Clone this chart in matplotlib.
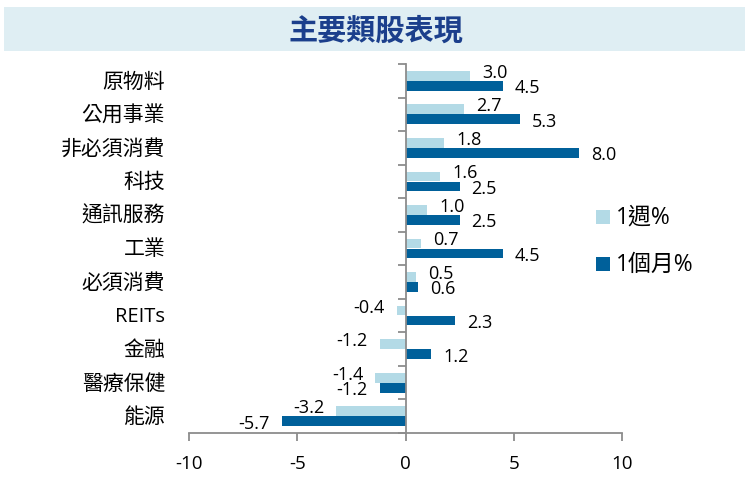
import matplotlib
matplotlib.use("Agg")
import matplotlib.pyplot as plt
from matplotlib.patches import Rectangle
import numpy as np

plt.rcParams['font.family'] = ['Open Sans', 'Noto Sans CJK TC', 'DejaVu Sans']

title = "主要類股表現"
categories = ["原物料", "公用事業", "非必須消費", "科技", "通訊服務", "工業",
              "必須消費", "REITs", "金融", "醫療保健", "能源"]
week = [3.0, 2.7, 1.8, 1.6, 1.0, 0.7, 0.5, -0.4, -1.2, -1.4, -3.2]
month = [4.5, 5.3, 8.0, 2.5, 2.5, 4.5, 0.6, 2.3, 1.2, -1.2, -5.7]
series_names = ["1週%", "1個月%"]
xticks = [-10, -5, 0, 5, 10]

c_light = "#B3DAE6"
c_dark = "#00609A"
grey = "#8C8C8C"

fig = plt.figure(figsize=(7.49, 4.89), dpi=100)

# title band
fig.patches.append(Rectangle((4/749, 1-52/489), 741/749, 44/489,
                             transform=fig.transFigure, facecolor="#DFEEF3",
                             edgecolor="none", zorder=0))
fig.text(376/749, 1-31/489, title, ha="center", va="center",
         fontsize=21, fontweight="bold", color="#1B3F8C",
         family=['Noto Sans CJK TC'])

ax = fig.add_axes([189/749, 1-434/489, 433/749, 369/489])
n = len(categories)
y = np.arange(n)
h = 0.29
ax.barh(y - 0.15, week, height=h, color=c_light, zorder=2)
ax.barh(y + 0.15, month, height=h, color=c_dark, zorder=2)

ax.set_xlim(-10, 10)
ax.set_ylim(n - 0.5, -0.5)

# spines
for s in ["top", "right"]:
    ax.spines[s].set_visible(False)
ax.spines["left"].set_position(("data", 0))
ax.spines["left"].set_color(grey)
ax.spines["bottom"].set_color(grey)
ax.spines["left"].set_linewidth(1.3)
ax.spines["bottom"].set_linewidth(1.3)
ax.spines["left"].set_zorder(3)

ax.set_xticks(xticks)
ax.set_xticklabels([str(v) for v in xticks], fontsize=13.5)
ax.tick_params(axis="x", length=6, width=1.3, color=grey, pad=9)
ax.set_yticks(np.arange(n + 1) - 0.5)
ax.set_yticklabels([])
ax.tick_params(axis="y", length=6, width=1.3, color=grey, direction="out")

# category labels at left
for i, c in enumerate(categories):
    ax.text(-0.055, i, c, transform=ax.get_yaxis_transform(), ha="right",
            va="center", fontsize=15 if c != "REITs" else 14.5, color="black",
            family=['Noto Sans CJK TC'] if c != "REITs" else ['Open Sans'])

# value labels
px = 20 / 433  # data units per pixel
off = 12 * px
def lab(v, yy):
    if v >= 0:
        ax.text(v + off, yy, f"{v:.1f}", ha="left", va="center", fontsize=13, zorder=4)
    else:
        ax.text(v - off, yy, f"{v:.1f}", ha="right", va="center", fontsize=13, zorder=4)

for i in range(n):
    lab(week[i], i - 0.15 - 0.12)
    lab(month[i], i + 0.15 + 0.04)

# legend
for k, (name, col, yy) in enumerate([(series_names[0], c_light, 218),
                                      (series_names[1], c_dark, 265)]):
    fig.patches.append(Rectangle((596/749, 1-(yy+7)/489), 14/749, 14/489,
                                 transform=fig.transFigure, facecolor=col,
                                 edgecolor="none"))
    fig.text(616/749, 1-yy/489, name, ha="left", va="center", fontsize=16.5)

fig.savefig("out.png", dpi=100)
